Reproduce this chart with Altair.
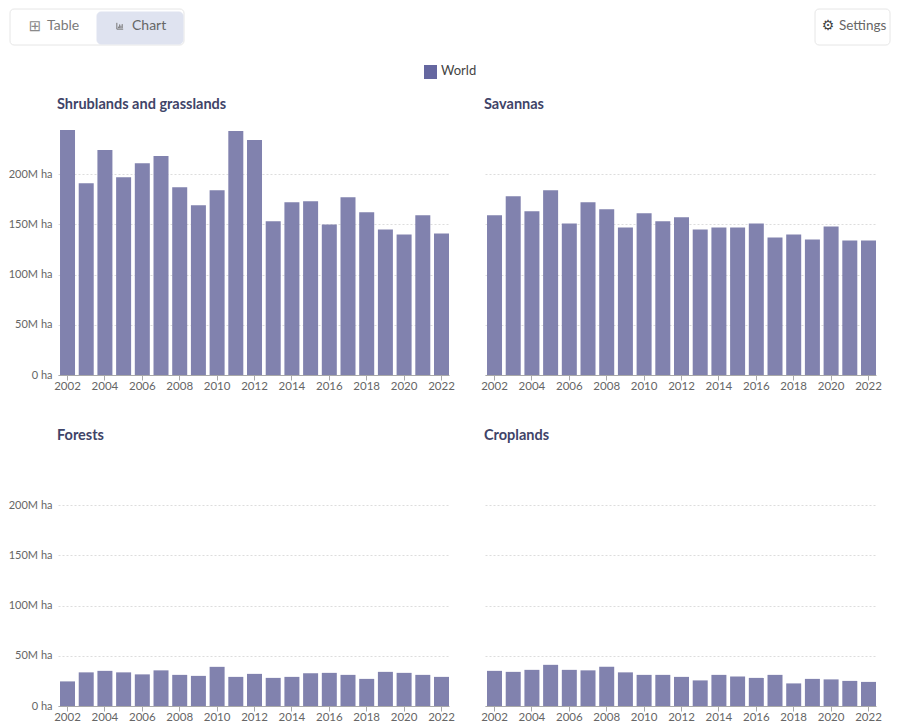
import altair as alt
import pandas as pd

years = list(range(2002, 2023))
shrublands = [244,191,224,197,211,218,187,169,184,243,234,153,172,173,150,177,162,145,140,159,141]
savannas = [159,178,163,184,151,172,165,147,161,153,157,145,147,147,151,137,140,135,148,134,134]
forests = [24.5,33.5,35,33.5,31.5,35.5,31,30,39,29,32,28,29,32.5,33,31,27,34,33,31,29]
croplands = [35,34,36,41,36,35.5,39,33.5,31,31,29,25.5,31,29.5,28,31,22.5,27,26.5,25,24]
entity = "World"
y_ticks = [0, 50, 100, 150, 200]
x_ticks = [y for y in years if y % 2 == 0]

BAR = "#8182AE"
LEG = "#6567A0"
FONT = "Lato"
PW, PH = 391, 245


def panel(title, values, show_labels):
    df = pd.DataFrame({"year": years, "value": values, "entity": entity})
    return (
        alt.Chart(df, width=PW, height=PH,
                  title=alt.TitleParams(title, anchor="start", frame="group", font=FONT, fontSize=14.5,
                                        fontWeight=700, color="#3f4468", offset=18, dx=-1))
        .mark_bar(opacity=1)
        .encode(
            x=alt.X("year:O", title=None,
                    scale=alt.Scale(paddingInner=0.198, paddingOuter=0.054, align=1),
                    axis=alt.Axis(values=x_ticks, labelAngle=0, labelFont=FONT, labelFontSize=11.5,
                                  labelColor="#666666", domainColor="#a9a9a9", tickColor="#a9a9a9",
                                  tickSize=5, labelPadding=0, grid=False)),
            y=alt.Y("value:Q", title=None,
                    scale=alt.Scale(domain=[0, 244], nice=False, zero=True),
                    axis=alt.Axis(values=y_ticks, labels=show_labels, domain=False, ticks=False,
                                  labelExpr="datum.value == 0 ? '0 ha' : datum.value + 'M ha'",
                                  labelFont=FONT, labelFontSize=11, labelColor="#666666", labelPadding=6,
                                  grid=True, gridColor="#dddddd", gridDash=[2, 2])),
            color=alt.value(BAR),
        )
    )


rect_rows = [
    {"x": -48, "x2": 126, "y": 0, "y2": 36, "fill": "#ffffff", "stroke": "#e6e6e6"},
    {"x": 39, "x2": 125, "y": 3, "y2": 35, "fill": "#dfe3f0", "stroke": "#dfe3f0"},
    {"x": 757, "x2": 832, "y": 0, "y2": 36, "fill": "#ffffff", "stroke": "#e6e6e6"},
]
text_rows = [
    {"x": -11, "y": 17, "t": "Table", "c": "#7a7a7a", "s": 14},
    {"x": 74, "y": 17, "t": "Chart", "c": "#666666", "s": 14},
    {"x": 781, "y": 17, "t": "Settings", "c": "#666666", "s": 13.5},
    {"x": 383, "y": 62, "t": entity, "c": "#444444", "s": 13},
]
glyph_rows = [
    {"x": -23, "y": 17, "t": "\u229e", "c": "#8a8a8a", "s": 15},
    {"x": 770, "y": 17, "t": "\u2699", "c": "#444444", "s": 14},
]
CHART_ICON = "M-1,-1V1H1M-.5,.7V.2M-.1,.7V-.5M.3,.7V-.1M.7,.7V-.6"

layers = []
for r in rect_rows:
    layers.append(alt.Chart(pd.DataFrame({"a": [0]})).mark_rect(
        fill=r["fill"], stroke=r["stroke"], cornerRadius=4, strokeWidth=1
    ).encode(x=alt.value(r["x"]), x2=alt.value(r["x2"]), y=alt.value(r["y"]), y2=alt.value(r["y2"])))
for r in text_rows:
    layers.append(alt.Chart(pd.DataFrame({"a": [0]})).mark_text(
        text=r["t"], font=FONT, fontSize=r["s"], color=r["c"], align="left", baseline="middle"
    ).encode(x=alt.value(r["x"]), y=alt.value(r["y"])))
for r in glyph_rows:
    layers.append(alt.Chart(pd.DataFrame({"a": [0]})).mark_text(
        text=r["t"], font="DejaVu Sans", fontSize=r["s"], color=r["c"], align="center", baseline="middle"
    ).encode(x=alt.value(r["x"]), y=alt.value(r["y"])))
layers.append(alt.Chart(pd.DataFrame({"a": [0]})).mark_point(
    shape=CHART_ICON, size=40, filled=False, color="#777777", strokeWidth=1, opacity=1
).encode(x=alt.value(62), y=alt.value(17)))
layers.append(alt.Chart(pd.DataFrame({"a": [0]})).mark_rect(fill=LEG).encode(
    x=alt.value(366), x2=alt.value(379), y=alt.value(56), y2=alt.value(70)))

header = alt.layer(*layers).properties(width=817, height=72)

row1 = alt.hconcat(panel("Shrublands and grasslands", shrublands, True),
                   panel("Savannas", savannas, False), spacing=25)
row2 = alt.hconcat(panel("Forests", forests, True),
                   panel("Croplands", croplands, False), spacing=25)

chart = (
    alt.vconcat(alt.vconcat(header, row1, spacing=15), row2, spacing=35)
    .configure_view(stroke=None)
    .properties(padding=0)
)
chart.save("out.html", embed_options={"renderer": "svg", "actions": False})
